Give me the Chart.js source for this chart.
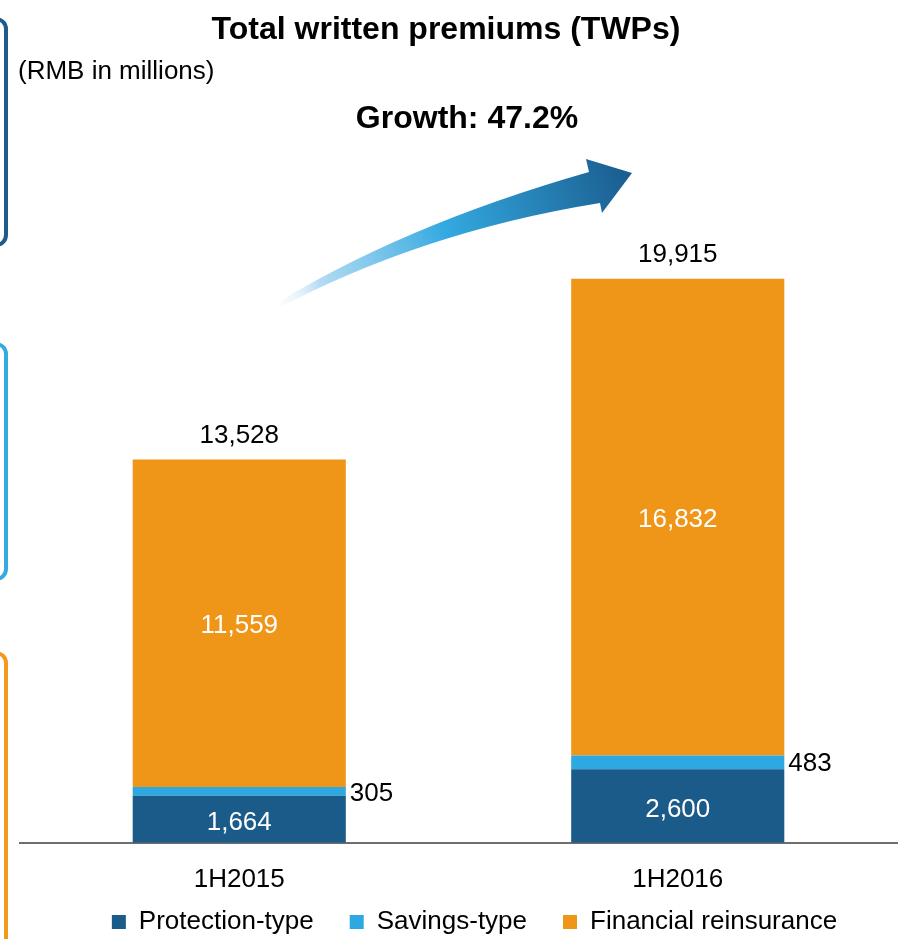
<!DOCTYPE html>
<html>
<head>
<meta charset="utf-8">
<title>Total written premiums (TWPs)</title>
<script src="https://cdn.jsdelivr.net/npm/chart.js@4.4.1/dist/chart.umd.min.js"></script>
<style>
    html, body { margin: 0; padding: 0; background: #fff; }
    #wrap { position: relative; width: 900px; height: 939px; }
</style>
</head>
<body>
<div id="wrap"><canvas id="twpChart" width="900" height="939"></canvas></div>
<script>
const periods = ["1H2015", "1H2016"];
const protectionType = [1664, 2600];
const savingsType = [305, 483];
const financialReinsurance = [11559, 16832];
const seriesNames = ["Protection-type", "Savings-type", "Financial reinsurance"];
const seriesColors = ["#1a5b8a", "#2ea8e0", "#ef9517"];

const chartTitle = "Total written premiums (TWPs)";
const unitNote = "(RMB in millions)";
const growthNote = "Growth: 47.2%";

const FONT = '"Liberation Sans", Arial, sans-serif';
const legendShiftX = 16;
const legendTextY = 922;

const totals = periods.map((_, i) => protectionType[i] + savingsType[i] + financialReinsurance[i]);
const fmt = v => v.toLocaleString("en-US");

// side frames, arrow and heading texts
const decorations = {
    id: "decorations",
    beforeDraw(chart) {
        const ctx = chart.ctx;
        ctx.save();
        ctx.lineWidth = 4;
        [["#1d5b8c", 19, 226], ["#35a9e1", 344, 235], ["#f29a1d", 653, 400]].forEach(([color, top, h]) => {
            ctx.strokeStyle = color;
            ctx.beginPath();
            ctx.roundRect(-40, top, 46, h, 10);
            ctx.stroke();
        });

        const grad = ctx.createLinearGradient(268, 310, 632, 172);
        grad.addColorStop(0, "rgba(255,255,255,0)");
        grad.addColorStop(0.15, "rgba(170,215,242,0.9)");
        grad.addColorStop(0.5, "#33a9e0");
        grad.addColorStop(1, "#1a5b8d");
        ctx.fillStyle = grad;
        ctx.beginPath();
        ctx.moveTo(267, 309);
        ctx.quadraticCurveTo(400, 226, 589, 172);
        ctx.lineTo(586, 159);
        ctx.lineTo(632, 173);
        ctx.lineTo(602, 213);
        ctx.lineTo(600, 203);
        ctx.quadraticCurveTo(420, 232, 271, 312);
        ctx.closePath();
        ctx.fill();

        ctx.fillStyle = "#000";
        ctx.textBaseline = "middle";
        ctx.textAlign = "center";
        ctx.font = "bold 32px " + FONT;
        ctx.fillText(chartTitle, 446, 30);
        ctx.fillText(growthNote, 467, 119);
        ctx.textAlign = "left";
        ctx.font = "26px " + FONT;
        ctx.fillText(unitNote, 18, 72);
        ctx.restore();
    }
};

const valueLabels = {
    id: "valueLabels",
    afterDatasetsDraw(chart) {
        const ctx = chart.ctx;
        const [protMeta, savMeta, finMeta] = [0, 1, 2].map(i => chart.getDatasetMeta(i));
        ctx.save();
        ctx.font = "26px " + FONT;
        ctx.textBaseline = "middle";
        periods.forEach((p, i) => {
            const prot = protMeta.data[i];
            const sav = savMeta.data[i];
            const fin = finMeta.data[i];

            ctx.textAlign = "center";
            ctx.fillStyle = "#fff";
            ctx.fillText(fmt(protectionType[i]), prot.x, (prot.y + prot.base) / 2 + 4);
            ctx.fillText(fmt(financialReinsurance[i]), fin.x, (fin.y + fin.base) / 2 + 3);

            ctx.fillStyle = "#000";
            ctx.fillText(fmt(totals[i]), fin.x, fin.y - 24);
            ctx.textAlign = "left";
            ctx.fillText(fmt(savingsType[i]), sav.x + sav.width / 2 + 4, (sav.y + sav.base) / 2 + 2);
        });
        ctx.restore();
    }
};

// move the legend row under the category labels
const legendPlacement = {
    id: "legendPlacement",
    afterLayout(chart) {
        const lg = chart.legend;
        lg.left += legendShiftX;
        lg.right += legendShiftX;
        const h = lg.bottom - lg.top;
        lg.top = legendTextY - lg.options.labels.padding - 13;
        lg.bottom = lg.top + h;
    }
};

const datasets = [protectionType, savingsType, financialReinsurance].map((values, i) => ({
    label: seriesNames[i],
    data: values,
    backgroundColor: seriesColors[i],
    borderWidth: 0,
    barPercentage: 0.486,
    categoryPercentage: 1
}));

new Chart(document.getElementById("twpChart"), {
    type: "bar",
    data: {
        labels: periods,
        datasets: datasets
    },
    options: {
        responsive: false,
        animation: false,
        devicePixelRatio: 1,
        layout: {
            // the legend row is moved up into the space below the axis labels
            padding: { top: 163, left: 20, right: 3, bottom: -49 }
        },
        plugins: {
            legend: {
                position: "bottom",
                labels: {
                    boxWidth: 14,
                    boxHeight: 14,
                    padding: 36,
                    color: "#000",
                    font: { family: FONT, size: 26 }
                }
            },
            tooltip: { enabled: false }
        },
        scales: {
            x: {
                stacked: true,
                grid: { display: false, drawTicks: false },
                border: { display: true, color: "#6e6e6e", width: 2 },
                ticks: {
                    color: "#000",
                    padding: 21,
                    font: { family: FONT, size: 26 }
                }
            },
            y: {
                stacked: true,
                display: false,
                min: 0,
                max: 24000
            }
        }
    },
    plugins: [decorations, valueLabels, legendPlacement]
});
</script>
</body>
</html>
